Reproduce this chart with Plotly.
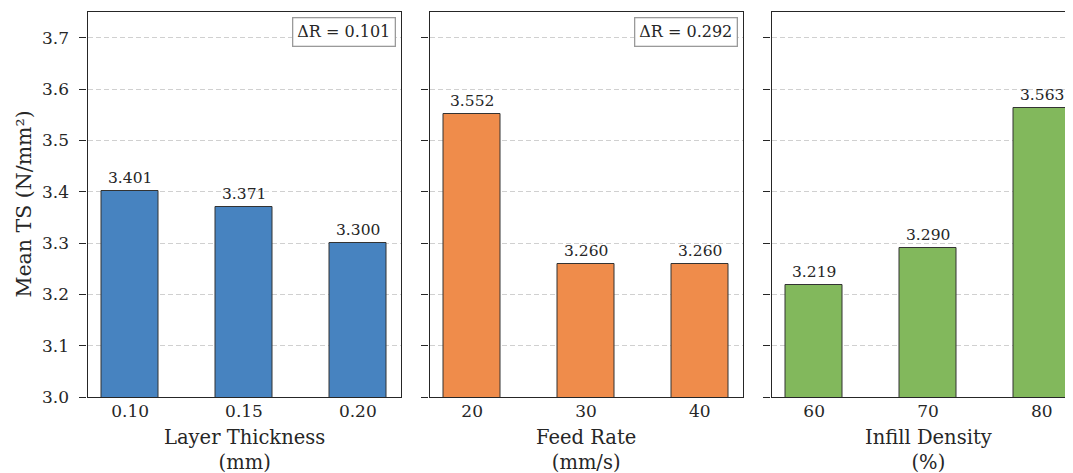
import plotly.graph_objects as go

# ---- data ----
factors = ["Layer Thickness", "Feed Rate", "Infill Density"]
units = ["(mm)", "(mm/s)", "(%)"]
levels = [["0.10", "0.15", "0.20"], ["20", "30", "40"], ["60", "70", "80"]]
means = [[3.401, 3.371, 3.300], [3.552, 3.260, 3.260], [3.219, 3.290, 3.563]]
colors = ["#4783C0", "#EF8C4B", "#82B85C"]
y_ticks = [3.0, 3.1, 3.2, 3.3, 3.4, 3.5, 3.6, 3.7]

FONT = "DejaVu Serif"
OFF = 8  # the page body adds an 8px margin
W, H = 1073 - OFF, 473 - OFF
ML, MT = 87 - OFF, 12 - OFF
MB = H - (397 - OFF)
PW = W - ML

# panel pixel extents in the page (panel 3 runs past the right edge of the image)
panel_px = [(87.5, 400.5), (429.5, 742.5), (771.5, 1084.5)]
panel_px = [(a - OFF, b - OFF) for a, b in panel_px]
full_range = [-0.375, 2.375]
units_per_px = (full_range[1] - full_range[0]) / (panel_px[0][1] - panel_px[0][0])

fig = go.Figure()
annotations = []

for i in range(3):
    xa = "x" if i == 0 else f"x{i+1}"
    ya = "y" if i == 0 else f"y{i+1}"
    x0, x1 = panel_px[i]
    vis_right = min(x1, W)
    dom = [max(0, (x0 - ML) / PW), min(1, (vis_right - ML) / PW)]
    xr = [full_range[0], full_range[0] + (vis_right - x0) * units_per_px]
    pos = list(range(len(levels[i])))

    fig.add_trace(go.Bar(
        x=pos, y=means[i], width=0.5,
        marker=dict(color=colors[i], line=dict(color="#333333", width=1)),
        xaxis=xa, yaxis=ya, showlegend=False, hoverinfo="skip",
    ))

    xkey = "xaxis" if i == 0 else f"xaxis{i+1}"
    ykey = "yaxis" if i == 0 else f"yaxis{i+1}"
    fig.layout[xkey] = dict(
        domain=dom, range=xr, anchor=ya,
        tickvals=pos, ticktext=levels[i],
        ticks="", ticklabelstandoff=-2,
        showline=True, linecolor="#262626", linewidth=1.2, mirror=True,
        showgrid=False, zeroline=False,
        tickfont=dict(family=FONT, size=17, color="#262626"),
        fixedrange=True,
    )
    fig.layout[ykey] = dict(
        domain=[0, 1], range=[3.0, 3.75], anchor=xa,
        tickvals=y_ticks,
        ticktext=[f"{v:.1f}" for v in y_ticks] if i == 0 else [""] * len(y_ticks),
        ticks="outside", ticklen=7, tickwidth=1.1, tickcolor="#262626",
        ticklabelstandoff=7,
        showline=True, linecolor="#262626", linewidth=1.2,
        mirror=(i < 2),
        showgrid=True, gridcolor="#d0d0d0", gridwidth=1, griddash="5px,3px",
        zeroline=False,
        tickfont=dict(family=FONT, size=17, color="#262626"),
        fixedrange=True,
    )

    # value labels
    for p, v in zip(pos, means[i]):
        annotations.append(dict(
            x=p, y=v, xref=xa, yref=ya, text=f"{v:.3f}", showarrow=False,
            yanchor="bottom", yshift=2,
            font=dict(family=FONT, size=15.5, color="#262626"),
        ))

    # delta R box
    dr = max(means[i]) - min(means[i])
    annotations.append(dict(
        x=full_range[1], y=1, xref=xa, yref=f"{ya} domain",
        text=f"ΔR = {dr:.3f}", showarrow=False,
        xanchor="right", yanchor="top", xshift=-5, yshift=-5,
        bgcolor="white", bordercolor="#9a9a9a", borderwidth=1.3, borderpad=4,
        font=dict(family=FONT, size=16, color="#262626"),
    ))

    # x axis title
    cx = ((x0 + x1) / 2 - ML) / PW
    annotations.append(dict(
        x=cx, y=0, xref="paper", yref="paper",
        text=f"{factors[i]}<br>{units[i]}", showarrow=False,
        xanchor="center", yanchor="top", yshift=-27,
        font=dict(family=FONT, size=19.5, color="#262626"),
    ))

# y title
annotations.append(dict(
    x=(23 - OFF - ML) / PW, y=0.5, xref="paper", yref="paper",
    text="Mean TS (N/mm²)", showarrow=False, textangle=-90,
    xanchor="center", yanchor="middle",
    font=dict(family=FONT, size=20.5, color="#262626"),
))

fig.update_layout(
    width=W, height=H,
    margin=dict(l=ML, r=0, t=MT, b=MB, pad=0),
    plot_bgcolor="white", paper_bgcolor="white",
    annotations=annotations,
    bargap=0,
)

fig.write_html("out.html")
